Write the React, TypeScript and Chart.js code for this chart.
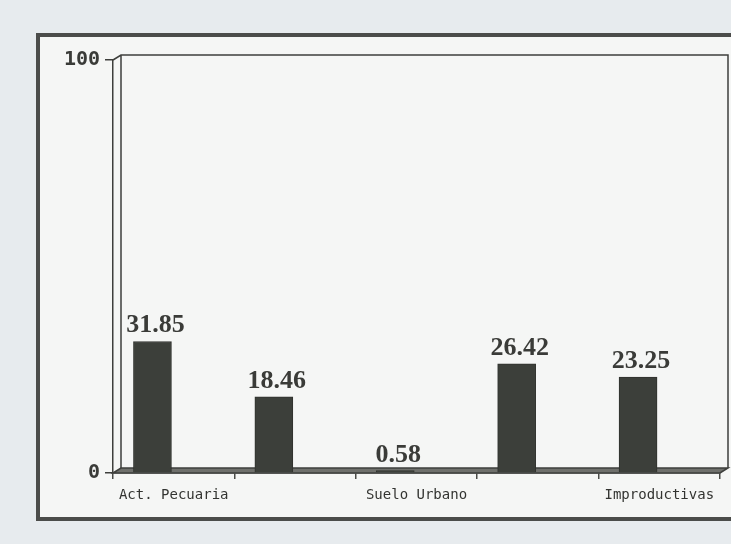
import React, { useEffect, useRef } from "react";
import { Chart, registerables } from "chart.js";

Chart.register(...registerables);

const categories = ["Act. Pecuaria", "", "Suelo Urbano", "", "Improductivas"];
const values = [31.85, 18.46, 0.58, 26.42, 23.25];
const valueLabels = ["31.85", "18.46", "0.58", "26.42", "23.25"];
const yTicks = [0, 100];

const W = 731;
const H = 544;

const decorPlugin = {
  id: "decor",
  beforeDraw(chart: any) {
    const ctx = chart.ctx;
    ctx.save();
    ctx.fillStyle = "#e7ebee";
    ctx.fillRect(0, 0, W, H);
    ctx.fillStyle = "#f5f6f5";
    ctx.fillRect(38, 35, W, 484);
    ctx.strokeStyle = "#4b4c4a";
    ctx.lineWidth = 4;
    ctx.strokeRect(38, 35, W + 20, 484);
    ctx.restore();
  },
  beforeDatasetsDraw(chart: any) {
    const ctx = chart.ctx;
    const a = chart.chartArea;
    const d = 8;
    const dy = 5;
    ctx.save();
    ctx.strokeStyle = "#3e3f3c";
    ctx.lineWidth = 1.5;
    ctx.beginPath();
    ctx.moveTo(a.left, a.top);
    ctx.lineTo(a.left + d, a.top - dy);
    ctx.lineTo(a.right + d, a.top - dy);
    ctx.lineTo(a.right + d, a.bottom - dy);
    ctx.moveTo(a.left + d, a.top - dy);
    ctx.lineTo(a.left + d, a.bottom - dy);
    ctx.stroke();
    ctx.fillStyle = "#6f706c";
    ctx.beginPath();
    ctx.moveTo(a.left, a.bottom);
    ctx.lineTo(a.left + d, a.bottom - dy);
    ctx.lineTo(a.right + d, a.bottom - dy);
    ctx.lineTo(a.right, a.bottom);
    ctx.closePath();
    ctx.fill();
    ctx.stroke();
    ctx.restore();
  },
  afterDatasetsDraw(chart: any) {
    const ctx = chart.ctx;
    const meta = chart.getDatasetMeta(0);
    ctx.save();
    ctx.fillStyle = "#3a3b38";
    ctx.font = "bold 26px 'Liberation Serif'";
    ctx.textAlign = "center";
    ctx.textBaseline = "alphabetic";
    meta.data.forEach((bar: any, i: number) => {
      ctx.fillText(valueLabels[i], bar.x + 3, bar.y - 9);
    });
    ctx.restore();
  },
};

export default function App() {
  const ref = useRef<HTMLCanvasElement | null>(null);
  useEffect(() => {
    if (!ref.current) return;
    const chart = new Chart(ref.current, {
      type: "bar",
      data: {
        labels: categories,
        datasets: [
          {
            data: values.map((v, i) => ({ x: i, y: v })) as any,
            xAxisID: "xb",
            yAxisID: "y",
            backgroundColor: "#3c3f3a",
            borderColor: "#30322e",
            borderWidth: 1,
            barThickness: 38,
          },
        ],
      },
      options: {
        animation: false,
        responsive: false,
        devicePixelRatio: 1,
        layout: { padding: { left: 53, top: 60, right: 11, bottom: 31 } },
        plugins: { legend: { display: false }, tooltip: { enabled: false } },
        scales: {
          x: {
            type: "category",
            offset: true,
            grid: {
              display: true,
              drawOnChartArea: false,
              offset: true,
              tickLength: 6,
              color: "#4a4b48",
              lineWidth: 1.5,
            },
            border: { display: true, color: "#3e3f3c", width: 1.5 },
            ticks: {
              autoSkip: false,
              maxRotation: 0,
              padding: 8,
              color: "#333431",
              font: { family: "'DejaVu Sans Mono'", size: 14 },
            },
            afterFit: (s: any) => {
              s.height = 40;
            },
          },
          xb: {
            type: "linear",
            display: false,
            offset: false,
            grace: 0,
            min: -0.325,
            max: 4.675,
          },
          y: {
            type: "linear",
            min: 0,
            max: 100,
            afterBuildTicks: (s: any) => {
              s.ticks = yTicks.map((v) => ({ value: v }));
            },
            grid: {
              display: true,
              drawOnChartArea: false,
              tickLength: 8,
              color: "#3e3f3c",
              lineWidth: 1.5,
            },
            border: { display: true, color: "#3e3f3c", width: 1.5 },
            ticks: {
              padding: 5,
              color: "#3a3b38",
              font: { family: "'DejaVu Sans Mono'", size: 20, weight: "bold" },
            },
            afterFit: (s: any) => {
              s.width = 60;
            },
          },
        },
      },
      plugins: [decorPlugin],
    });
    return () => chart.destroy();
  }, []);
  return (
    <div style={{ position: "fixed", left: 0, top: 0, width: W, height: H }}>
      <canvas ref={ref} width={W} height={H} style={{ width: W, height: H, display: "block" }} />
    </div>
  );
}
